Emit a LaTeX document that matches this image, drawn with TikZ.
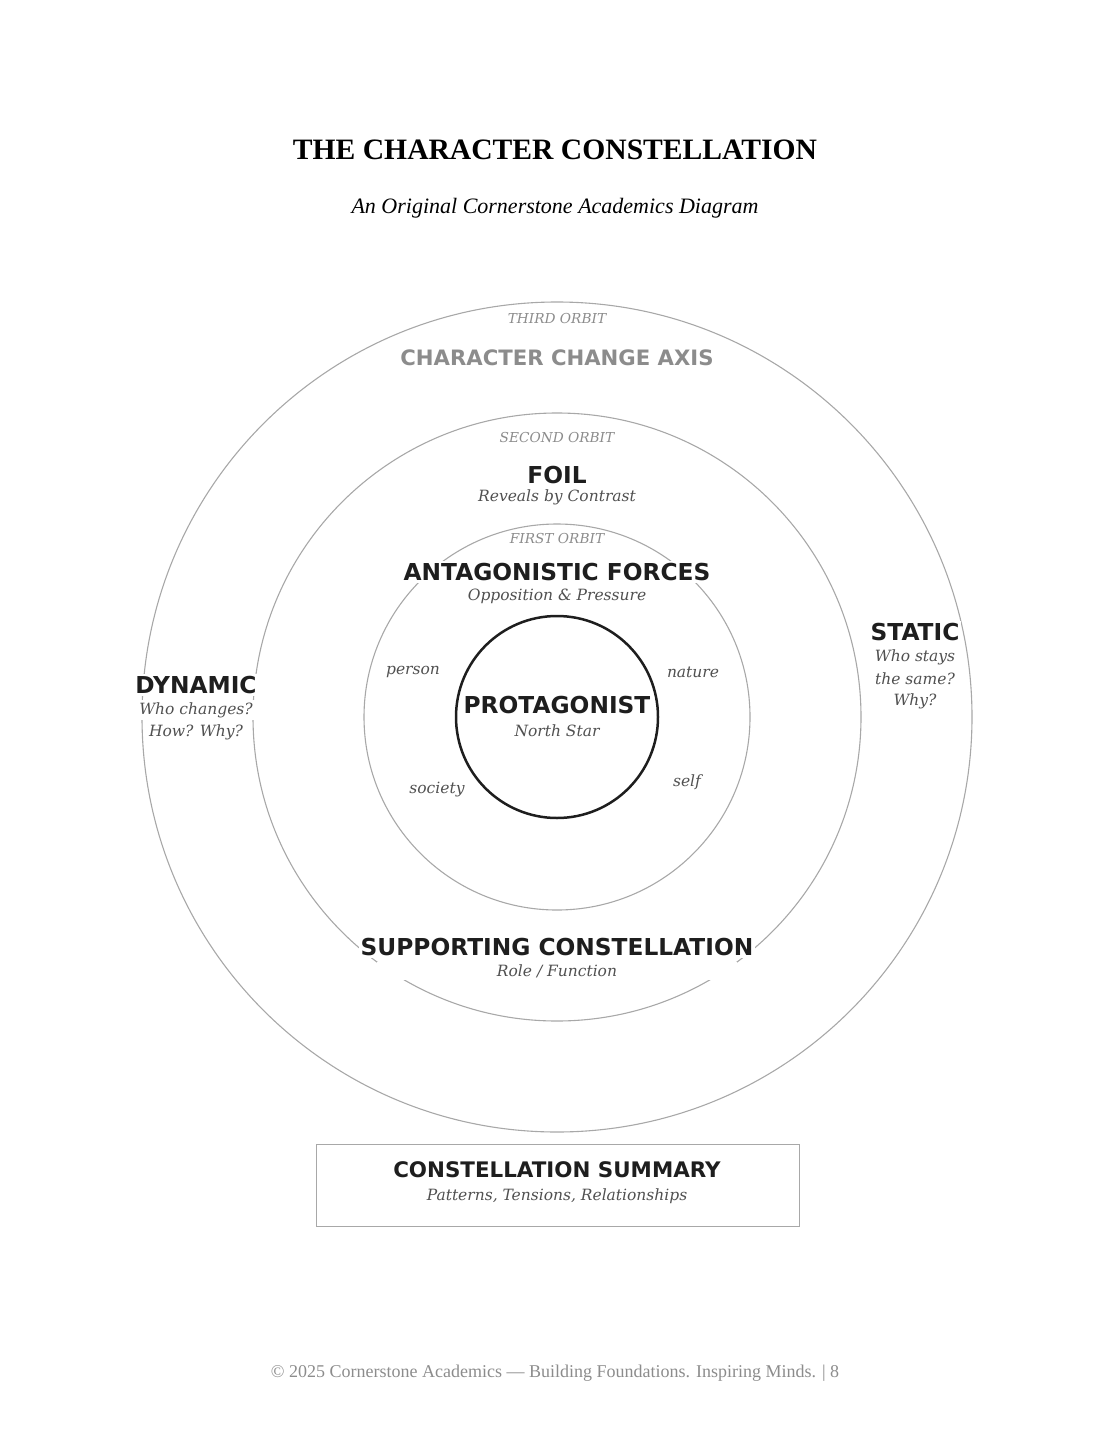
\documentclass[tikz,border=0pt]{standalone}
\usepackage{fontspec}
\setmainfont{Liberation Serif}
\newfontfamily\lab{DejaVu Sans}
\newfontfamily\ital{DejaVu Serif}
\newfontfamily\ttl{Liberation Serif}
\definecolor{orb}{HTML}{A8A8A8}
\definecolor{tx}{HTML}{1E1E1E}
\definecolor{sub}{HTML}{505050}
\definecolor{lt}{HTML}{8C8C8C}
\begin{document}
\begin{tikzpicture}[x=1pt,y=-1pt,
  orbit/.style={draw=orb,line width=1.1pt},
  big/.style={font=\lab\bfseries\fontsize{23.3}{26}\selectfont,text=tx,fill=white,inner sep=2pt},
  it/.style={font=\ital\itshape\fontsize{15.5}{22}\selectfont,text=sub,align=center,inner sep=1pt},
  itw/.style={it,fill=white,inner sep=2pt},
  orbl/.style={font=\ital\itshape\fontsize{13.7}{15}\selectfont,text=lt,fill=white,inner sep=2pt}]
\useasboundingbox (0,0) rectangle (1110,1447);
\coordinate (c) at (557,717);
\draw[orbit] (c) circle (415);
\draw[orbit] (c) circle (304);
\draw[orbit] (c) circle (193);
\draw[line width=2.5pt,draw=tx] (c) circle (101);
\node[font=\ttl\bfseries\fontsize{29.6}{34}\selectfont] (title) at (555,150) {THE CHARACTER CONSTELLATION};
\node[font=\ttl\itshape\fontsize{22}{24}\selectfont] (subt) at (555,208) {An Original Cornerstone Academics Diagram};
\node[orbl] (o3) at (557,319) {THIRD ORBIT};
\node[big,text=lt,font=\lab\bfseries\fontsize{21.2}{24}\selectfont] (axis) at (557,358) {CHARACTER CHANGE AXIS};
\node[orbl] (o2) at (557,438) {SECOND ORBIT};
\node[big] (foil) at (557,475) {FOIL};
\node[it] (foils) at (557,497) {Reveals by Contrast};
\node[orbl] (o1) at (557,539) {FIRST ORBIT};
\node[big] (ant) at (557,572) {ANTAGONISTIC FORCES};
\node[itw] (ants) at (557,596) {Opposition \& Pressure};
\node[it] (p1) at (413,672) {person};
\node[it] (p2) at (693,672) {nature};
\node[it] (p3) at (437,790) {society};
\node[it] (p4) at (687,782) {self};
\node[big,fill=none] (pro) at (557,705) {PROTAGONIST};
\node[it] (pros) at (557,731) {North Star};
\node[big] (dyn) at (196,685) {DYNAMIC};
\node[itw] (dyn1) at (196,710) {Who changes?};
\node[itw] (dyn2) at (196,732) {How? Why?};
\node[big] (sta) at (915,632) {STATIC};
\node[itw] (sta1) at (915,657) {Who stays};
\node[itw] (sta2) at (915,679) {the same?};
\node[itw] (sta3) at (915,701) {Why?};
\node[big] (sup) at (557,947) {SUPPORTING CONSTELLATION};
\node[itw,inner xsep=120pt] (sups) at (557,971) {Role / Function};
\draw[draw=orb,line width=1pt] (316,1144) rectangle (799,1226);
\node[big,font=\lab\bfseries\fontsize{21.4}{24}\selectfont] (sum) at (557,1170) {CONSTELLATION SUMMARY};
\node[it] (sums) at (557,1196) {Patterns, Tensions, Relationships};
\node[font=\fontsize{18}{20}\selectfont,text=lt] (foot) at (555,1373) {© 2025 Cornerstone Academics — Building Foundations. Inspiring Minds. | 8};
\end{tikzpicture}
\end{document}
